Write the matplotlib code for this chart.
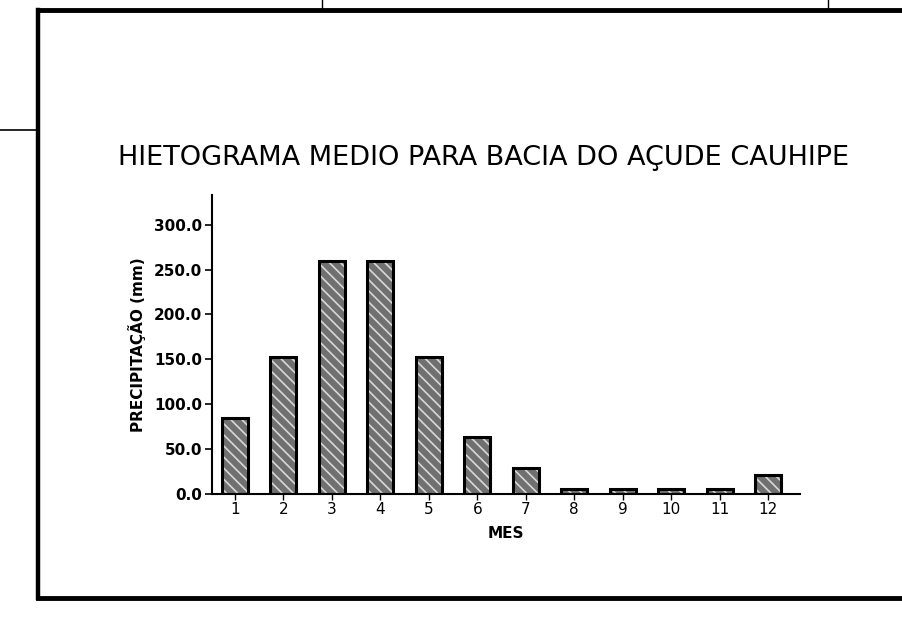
import matplotlib
matplotlib.use("Agg")
import matplotlib.pyplot as plt
from matplotlib.lines import Line2D

months = list(range(1, 13))
month_labels = [str(m) for m in months]
precip = [85, 153, 259, 259, 153, 64, 29, 6, 6, 6, 6, 21]
yticks = [0, 50, 100, 150, 200, 250, 300]
ytick_labels = ["0.0", "50.0", "100.0", "150.0", "200.0", "250.0", "300.0"]

title = "HIETOGRAMA MEDIO PARA BACIA DO AÇUDE CAUHIPE"
ylabel = "PRECIPITAÇÃO (mm)"
xlabel = "MES"

plt.rcParams['font.family'] = ['DejaVu Sans']
plt.rcParams['hatch.linewidth'] = 1.2

fig = plt.figure(figsize=(9.02, 6.28), dpi=100)
ax = fig.add_axes([0.235, 0.2134, 0.652, 0.4761])

ax.bar(months, precip, width=0.54, color='#707070', edgecolor='#d8d8d8',
       hatch='\\\\\\', linewidth=0, zorder=2)
ax.bar(months, precip, width=0.54, fill=False, edgecolor='black',
       linewidth=2.2, zorder=3)

ax.set_xlim(0.526, 12.66)
ax.set_ylim(0, 333)
ax.set_yticks(yticks)
ax.set_yticklabels(ytick_labels, fontsize=11, fontweight='bold')
ax.set_xticks(months)
ax.set_xticklabels(month_labels, fontsize=11)
ax.tick_params(axis='y', length=5, width=1.2, pad=2)
ax.tick_params(axis='x', length=4, width=1.0, pad=2)
for s in ['top', 'right']:
    ax.spines[s].set_visible(False)
for s in ['left', 'bottom']:
    ax.spines[s].set_linewidth(1.5)

ax.set_ylabel(ylabel, fontsize=11, fontweight='bold', labelpad=6)
ax.set_xlabel(xlabel, fontsize=11, fontweight='bold', labelpad=6)

fig.text(0.536, 1 - 158 / 628, title, ha='center', va='center', fontsize=19.5)

# scanned page frame
W, H = 902.0, 628.0
def fx(x):
    return x / W
def fy(y):
    return 1 - y / H
fig.add_artist(Line2D([fx(38), fx(38)], [fy(10), fy(598)], color='black', lw=3.2))
fig.add_artist(Line2D([fx(38), 1.0], [fy(10), fy(10)], color='black', lw=3.5))
fig.add_artist(Line2D([fx(38), 1.0], [fy(598), fy(598)], color='black', lw=3.5))
fig.add_artist(Line2D([0, fx(38)], [fy(130), fy(130)], color='black', lw=1.2))
fig.add_artist(Line2D([fx(322), fx(322)], [fy(0), fy(10)], color='black', lw=1.0))
fig.add_artist(Line2D([fx(828), fx(828)], [fy(0), fy(10)], color='black', lw=1.0))

fig.savefig("out.png", dpi=100)
